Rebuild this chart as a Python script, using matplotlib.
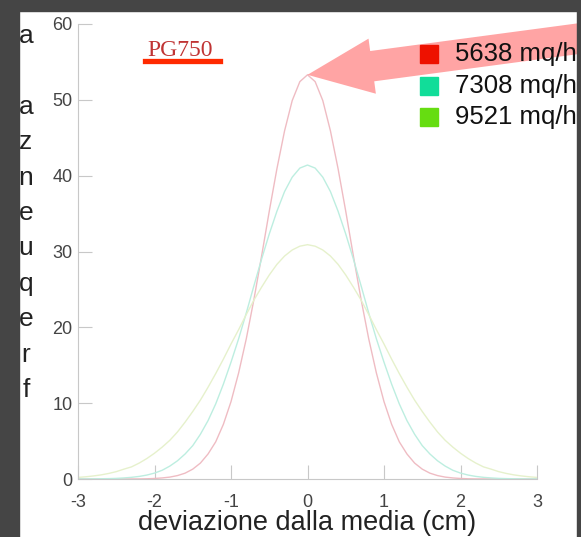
import numpy as np
import matplotlib
matplotlib.use("Agg")
import matplotlib.pyplot as plt
from matplotlib.patches import Rectangle
from matplotlib.lines import Line2D

# ---- data (x from -3 to 3, step 0.1) ----
x = np.round(np.arange(-30, 31) / 10, 1)

red_5638 = [0, 0, 0, 0, 0, 0, 0.01, 0.01, 0.01, 0.03,
            0.07, 0.14, 0.25, 0.45, 0.77, 1.3, 2.1, 3.3, 4.9, 7.2,
            10.2, 14.0, 18.5, 23.7, 29.4, 35.3, 40.9, 45.9, 49.9, 52.4,
            53.3,
            52.4, 49.9, 45.9, 40.9, 35.3, 29.4, 23.7, 18.5, 14.0, 10.2,
            7.2, 4.9, 3.3, 2.1, 1.3, 0.77, 0.45, 0.25, 0.14, 0.07,
            0.03, 0.01, 0.01, 0.01, 0, 0, 0, 0, 0, 0]

teal_7308 = [0.01, 0.01, 0.02, 0.03, 0.05, 0.08, 0.14, 0.22, 0.34, 0.52,
             0.78, 1.15, 1.7, 2.4, 3.3, 4.4, 5.9, 7.7, 9.9, 12.5,
             15.4, 18.5, 21.9, 25.5, 29.0, 32.3, 35.3, 37.9, 39.8, 41.0,
             41.4,
             41.0, 39.8, 37.9, 35.3, 32.3, 29.0, 25.5, 21.9, 18.5, 15.4,
             12.5, 9.9, 7.7, 5.9, 4.4, 3.3, 2.4, 1.7, 1.15, 0.78,
             0.52, 0.34, 0.22, 0.14, 0.08, 0.05, 0.03, 0.02, 0.01, 0.01]

green_9521 = [0.21, 0.29, 0.40, 0.54, 0.73, 0.97, 1.3, 1.6, 2.1, 2.7,
              3.4, 4.2, 5.1, 6.2, 7.5, 8.9, 10.4, 12.1, 13.9, 15.8,
              17.8, 19.7, 21.7, 23.6, 25.3, 26.9, 28.3, 29.4, 30.2, 30.7,
              30.9,
              30.7, 30.2, 29.4, 28.3, 26.9, 25.3, 23.6, 21.7, 19.7, 17.8,
              15.8, 13.9, 12.1, 10.4, 8.9, 7.5, 6.2, 5.1, 4.2, 3.4,
              2.7, 2.1, 1.6, 1.3, 0.97, 0.73, 0.54, 0.40, 0.29, 0.21]

series = [red_5638, teal_7308, green_9521]
labels = ["5638 mq/h", "7308 mq/h", "9521 mq/h"]
line_colors = ["#efbcc3", "#bdeee0", "#e6f1cc"]
square_colors = ["#ee1100", "#11dd99", "#66dd11"]

x_ticks = [-3, -2, -1, 0, 1, 2, 3]
y_ticks = [0, 10, 20, 30, 40, 50, 60]
y_letters = ["a", "", "a", "z", "n", "e", "u", "q", "e", "r", "f"]

plt.rcParams['font.family'] = ['Liberation Sans', 'DejaVu Sans']

fig = plt.figure(figsize=(5.81, 5.37), dpi=100)
W, H = 581, 537

# dark frame strips (slide background)
dark = "#454545"
fig.add_artist(Rectangle((0, 0), 19 / W, 1, transform=fig.transFigure, color=dark, zorder=0))
fig.add_artist(Rectangle((0, 1 - 11 / H), 1, 11 / H, transform=fig.transFigure, color=dark, zorder=0))
fig.add_artist(Rectangle((1 - 4 / W, 0), 4 / W, 1, transform=fig.transFigure, color=dark, zorder=5))

ax = fig.add_axes([78 / W, 58 / H, (537 - 78) / W, (479 - 24) / H])
ax.patch.set_alpha(0)

for ys, c in zip(series, line_colors):
    ax.plot(x, ys, color=c, linewidth=1.0)

ax.set_xlim(-3, 3)
ax.set_ylim(0, 60)
ax.set_xticks(x_ticks)
ax.set_xticklabels([str(t) for t in x_ticks])
ax.set_yticks(y_ticks)
for s in ["top", "right"]:
    ax.spines[s].set_visible(False)
for s in ["left", "bottom"]:
    ax.spines[s].set_color("#c8c8c8")
ax.tick_params(axis="both", direction="in", length=10, color="#c8c8c8",
               labelsize=13, labelcolor="#444444")
ax.tick_params(axis="x", pad=11)
ax.tick_params(axis="y", pad=4)

ax.set_xlabel("deviazione dalla media (cm)", fontsize=19.5, color="#222222", labelpad=-1)

# stacked y label letters
fig.text(26 / W, 1 - 24 / H, "\n".join(y_letters), fontsize=19, color="#222222",
         ha="center", va="top", linespacing=1.6, multialignment="center")

# legend made of squares + text
for i, (lab, c) in enumerate(zip(labels, square_colors)):
    yc = 1 - (54 + 31.5 * i) / H
    fig.add_artist(Rectangle((420 / W, yc - 9 / H), 18 / W, 18 / H,
                             transform=fig.transFigure, color=c, zorder=3))
    fig.text(455 / W, yc, lab, fontsize=18.5, color="#111111", va="center", zorder=3)

# PG750 tag
fig.text(147 / W, 1 - 50 / H, "PG750", family="Liberation Serif", fontsize=17,
         color="#c03434", va="center", ha="left")
fig.add_artist(Line2D([145 / W, 220 / W], [1 - 60.5 / H, 1 - 60.5 / H],
                      transform=fig.transFigure, color="#ff2a00", linewidth=3.8))

# big pink arrow pointing at the red peak
ax.annotate("", xy=(0, max(red_5638)), xycoords="data",
            xytext=(1.03, 0.933), textcoords="figure fraction",
            annotation_clip=False,
            arrowprops=dict(arrowstyle="simple,head_length=4.7,head_width=4.0,tail_width=2.2",
                            mutation_scale=10, color="#ff5a5a", alpha=0.55,
                            shrinkA=0, shrinkB=0, linewidth=0),
            zorder=10)

fig.savefig("out.png", dpi=100)
